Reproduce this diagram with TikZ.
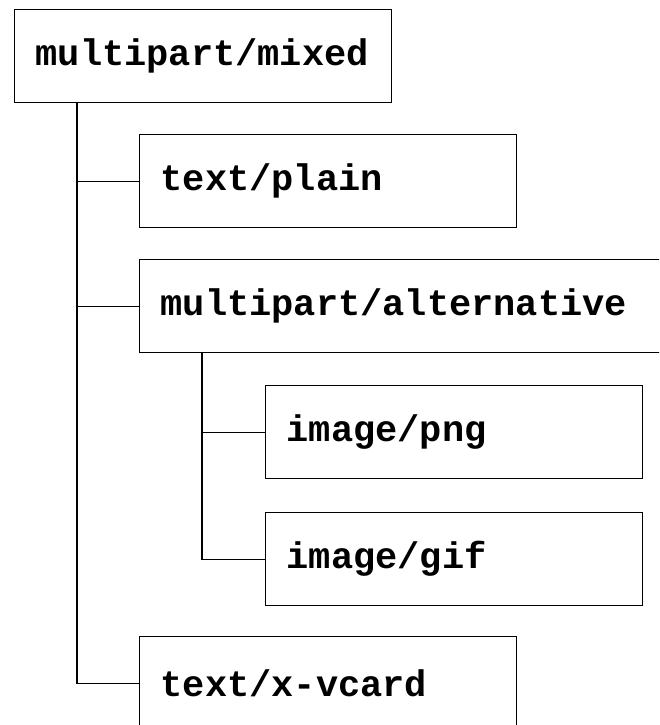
\documentclass[tikz,border=0pt]{standalone}
\usepackage{fontspec}
\setmonofont{Liberation Mono}
\tikzset{
  part/.style={draw, anchor=north west, line width=1.2pt, inner xsep=21pt,
    minimum height=93pt, text width=335pt, align=left,
    font=\ttfamily\bfseries\fontsize{37}{44}\selectfont},
  wide/.style={text width=620pt}
}
\begin{document}
\begin{tikzpicture}[x=1pt,y=-1pt]
        \useasboundingbox (0,0) rectangle (659,725);
        \clip (0,0) rectangle (659,725);
        \node[part] (mixed) at (14,9){multipart/mixed};
        \node[part] (plain) at (139,134){text/plain};
        \node[part,wide] (alt) at (139,259){multipart/alternative};
        \node[part] (png) at (265,385){image/png};
        \node[part] (gif) at (265,512){image/gif};
        \node[part] (vcard) at (139,636){text/x-vcard};

        \coordinate (trunk) at ([xshift=63pt]mixed.south west);
        \coordinate (branch) at ([xshift=63pt]alt.south west);

        \draw[line width=1.2pt] (trunk) |- (plain.west);
        \draw[line width=1.2pt] (trunk) |- (alt.west);
        \draw[line width=1.2pt] (trunk) |- (vcard.west);
        \draw[line width=1.2pt] (branch) |- (png.west);
        \draw[line width=1.2pt] (branch) |- (gif.west);
    \end{tikzpicture}
\end{document}
